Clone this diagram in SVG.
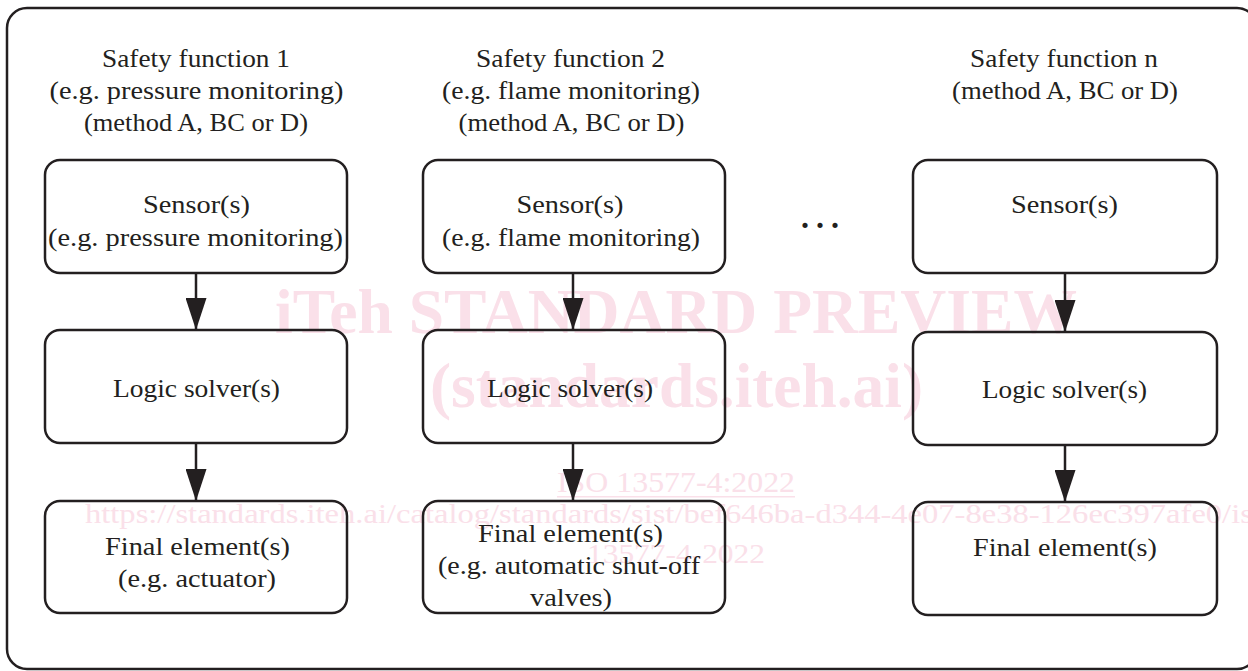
<svg xmlns="http://www.w3.org/2000/svg" width="1248" height="671" viewBox="0 0 1248 671">
<style>
.frame{fill:none;stroke:#231f20;stroke-width:2.5}
.box{fill:none;stroke:#231f20;stroke-width:2.5}
.t{font-family:"Liberation Serif","Times New Roman",serif;font-size:26px;fill:#231f20;text-anchor:middle}
.wm{font-family:"Liberation Serif","Times New Roman",serif;fill:#fae0e9}
.wmb{font-weight:bold;font-size:64px}
.conn{stroke:#231f20;stroke-width:2.5;fill:none}
</style>
<defs>
<marker id="ah" viewBox="0 0 32 21" refX="32" refY="10.5" markerWidth="32" markerHeight="21" markerUnits="userSpaceOnUse" orient="auto">
<path d="M0,0 L32,10.5 L0,21 z" fill="#231f20"/>
</marker>
</defs>
<rect width="1248" height="671" fill="#fff"/>
<g id="watermark">
<text class="wm wmb" x="275" y="333" textLength="802" lengthAdjust="spacingAndGlyphs">iTeh STANDARD PREVIEW</text>
<text class="wm wmb" x="430" y="407" textLength="493" lengthAdjust="spacingAndGlyphs">(standards.iteh.ai)</text>
<text class="wm" x="557" y="492" font-size="30" textLength="238" lengthAdjust="spacingAndGlyphs">ISO 13577-4:2022</text>
<rect x="557" y="496" width="238" height="1.5" fill="#fae0e9"/>
<text class="wm" x="85" y="523" font-size="28" textLength="1195" lengthAdjust="spacingAndGlyphs">https://standards.iteh.ai/catalog/standards/sist/bef646ba-d344-4e07-8e38-126ec397afe0/iso-</text>
<text class="wm" x="587" y="563" font-size="28" textLength="178" lengthAdjust="spacingAndGlyphs">13577-4-2022</text>
</g>
<rect class="frame" x="7" y="8" width="1250" height="661" rx="20"/>
<g id="titles">
<text class="t" x="196" y="67" textLength="188" lengthAdjust="spacingAndGlyphs">Safety function 1</text>
<text class="t" x="196.5" y="99" textLength="294" lengthAdjust="spacingAndGlyphs">(e.g. pressure monitoring)</text>
<text class="t" x="196" y="131" textLength="224" lengthAdjust="spacingAndGlyphs">(method A, BC or D)</text>
<text class="t" x="570.5" y="67" textLength="189" lengthAdjust="spacingAndGlyphs">Safety function 2</text>
<text class="t" x="571" y="99" textLength="258" lengthAdjust="spacingAndGlyphs">(e.g. flame monitoring)</text>
<text class="t" x="571.5" y="131" textLength="226" lengthAdjust="spacingAndGlyphs">(method A, BC or D)</text>
<text class="t" x="1064" y="67" textLength="188" lengthAdjust="spacingAndGlyphs">Safety function n</text>
<text class="t" x="1065" y="99" textLength="226" lengthAdjust="spacingAndGlyphs">(method A, BC or D)</text>
<text x="801" y="228" font-family="'Liberation Serif',serif" font-size="32" font-weight="bold" fill="#231f20" letter-spacing="7">...</text>
</g>
<g id="connectors">
<line class="conn" x1="196" y1="273" x2="196" y2="330" marker-end="url(#ah)"/>
<line class="conn" x1="196" y1="443" x2="196" y2="501" marker-end="url(#ah)"/>
<line class="conn" x1="573" y1="273" x2="573" y2="330" marker-end="url(#ah)"/>
<line class="conn" x1="573" y1="443" x2="573" y2="501" marker-end="url(#ah)"/>
<line class="conn" x1="1065" y1="273" x2="1065" y2="332" marker-end="url(#ah)"/>
<line class="conn" x1="1065" y1="445" x2="1065" y2="502" marker-end="url(#ah)"/>
</g>
<g id="sensor1">
<rect class="box" x="45" y="160" width="302" height="113" rx="15"/>
<text class="t" x="196.5" y="213" textLength="107" lengthAdjust="spacingAndGlyphs">Sensor(s)</text>
<text class="t" x="195.5" y="246" textLength="295" lengthAdjust="spacingAndGlyphs">(e.g. pressure monitoring)</text>
</g>
<g id="logic1">
<rect class="box" x="45" y="330" width="302" height="113" rx="15"/>
<text class="t" x="196.5" y="397" textLength="167" lengthAdjust="spacingAndGlyphs">Logic solver(s)</text>
</g>
<g id="final1">
<rect class="box" x="45" y="501" width="302" height="112" rx="15"/>
<text class="t" x="197.5" y="555" textLength="185" lengthAdjust="spacingAndGlyphs">Final element(s)</text>
<text class="t" x="197" y="587" textLength="158" lengthAdjust="spacingAndGlyphs">(e.g. actuator)</text>
</g>
<g id="sensor2">
<rect class="box" x="423" y="160" width="302" height="113" rx="15"/>
<text class="t" x="570" y="213" textLength="107" lengthAdjust="spacingAndGlyphs">Sensor(s)</text>
<text class="t" x="571" y="246" textLength="258" lengthAdjust="spacingAndGlyphs">(e.g. flame monitoring)</text>
</g>
<g id="logic2">
<rect class="box" x="423" y="330" width="302" height="113" rx="15"/>
<text class="t" x="570" y="397" textLength="166" lengthAdjust="spacingAndGlyphs">Logic solver(s)</text>
</g>
<g id="final2">
<rect class="box" x="423" y="501" width="302" height="112" rx="15"/>
<text class="t" x="570.5" y="542" textLength="185" lengthAdjust="spacingAndGlyphs">Final element(s)</text>
<text class="t" x="569" y="574" textLength="262" lengthAdjust="spacingAndGlyphs">(e.g. automatic shut-off</text>
<text class="t" x="571" y="606" textLength="82" lengthAdjust="spacingAndGlyphs">valves)</text>
</g>
<g id="sensorn">
<rect class="box" x="913" y="160" width="304" height="113" rx="15"/>
<text class="t" x="1064.5" y="213" textLength="107" lengthAdjust="spacingAndGlyphs">Sensor(s)</text>
</g>
<g id="logicn">
<rect class="box" x="913" y="332" width="304" height="113" rx="15"/>
<text class="t" x="1064.5" y="398" textLength="165" lengthAdjust="spacingAndGlyphs">Logic solver(s)</text>
</g>
<g id="finaln">
<rect class="box" x="913" y="502" width="304" height="113" rx="15"/>
<text class="t" x="1065" y="556" textLength="184" lengthAdjust="spacingAndGlyphs">Final element(s)</text>
</g>
</svg>
